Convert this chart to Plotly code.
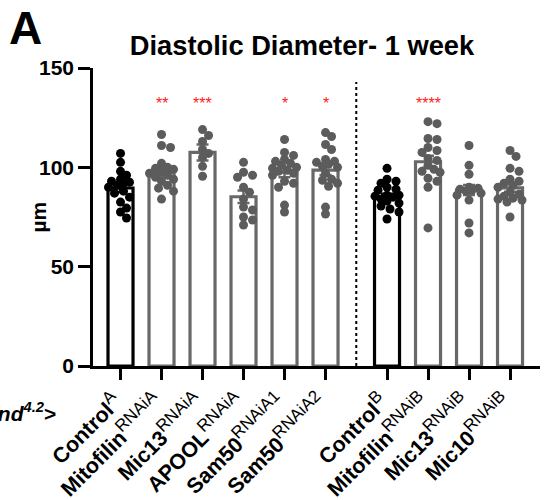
import plotly.graph_objects as go

# ---------------- data ----------------
names = ["Control", "Mitofilin", "Mic13", "APOOL", "Sam50", "Sam50",
         "Control", "Mitofilin", "Mic13", "Mic10"]
sups = ["A", "RNAiA", "RNAiA", "RNAiA", "RNAiA1", "RNAiA2",
        "B", "RNAiB", "RNAiB", "RNAiB"]
is_control = [True, False, False, False, False, False, True, False, False, False]
means = [89.6, 97.5, 107.5, 85.2, 97.5, 98.6, 85.2, 102.8, 88.6, 89.7]
sems = [2.0, 2.0, 4.0, 3.2, 2.5, 2.5, 1.5, 3.0, 2.5, 2.0]
signif = ["", "**", "***", "", "*", "*", "", "****", "", ""]

ctrlA = [107, 102.5, 98, 96, 94, 93, 92.5, 92, 91, 90, 88, 87, 85, 82.5, 79.5, 77.5, 74.5]
mitoA = [116.5, 111, 110, 102, 100, 99.5, 99, 98, 97, 96, 95, 94, 93, 91, 89.5, 88, 84]
mic13A = [119, 116, 113, 109, 107, 105, 100.5, 95.5]
apoolA = [102.5, 97.5, 96, 95, 90, 87.5, 84, 80, 78.5, 75, 73.5, 71]
sam50A1 = [114, 107.5, 106, 104, 103, 102, 101, 100, 99.5, 98.5, 98, 97, 96, 93, 92, 90, 81, 77.5]
sam50A2 = [117.5, 115.5, 111.5, 109, 104, 103, 102.5, 101.5, 100.5, 100, 97, 94, 93.5, 92, 90.5, 80, 76.5]
ctrlB = [99.5, 94, 93, 92, 90, 89, 88.5, 86, 85.5, 86, 85, 84, 83, 82, 80.5, 79, 77.5, 74]
mitoB = [123, 122, 114.5, 114, 110, 108.5, 107.5, 104.5, 103.5, 101, 99, 98, 97.5, 94.5, 93, 90, 69.5]
mic13B = [111, 101, 96.5, 90, 89.5, 89, 88.5, 88, 87, 86, 83.5, 72, 67]
mic10B = [108.5, 105.5, 99.5, 98, 94, 93, 92, 91, 90, 87.5, 86.5, 85.5, 84.5, 84, 83.5, 82.5, 75]
points = [ctrlA, mitoA, mic13A, apoolA, sam50A1, sam50A2, ctrlB, mitoB, mic13B, mic10B]

y_ticks = [0, 50, 100, 150]

# ---------------- layout constants ----------------
W, H = 548, 500
L, R, T, B = 93, 8, 68, 134
plot_w, plot_h = W - L - R, H - T - B
group_a, group_gap = 6, 1.5
positions = [i if i < group_a else i + group_gap - 1 for i in range(len(names))]
x_range = [-0.671, 10.231]
y_range = [0, 150]
px_x = plot_w / (x_range[1] - x_range[0])
px_y = plot_h / (y_range[1] - y_range[0])

FONT = "Arial, Liberation Sans"
BLACK = "#000000"
GRAY = "#686868"
DOTGRAY = "#5c5c5c"


def swarm(vals, mind=6.8, step=3.0, maxoff=14.0):
    order = sorted(range(len(vals)), key=lambda k: -vals[k])
    placed = []
    offs = [0.0] * len(vals)
    cands = [0.0]
    k = 1
    while k * step <= maxoff:
        cands += [k * step, -k * step]
        k += 1
    for idx in order:
        yy = vals[idx] * px_y
        best, bestd = None, -1
        for c in cands:
            d = min([((c - ox) ** 2 + (yy - oy) ** 2) ** 0.5 for ox, oy in placed] or [1e9])
            if d >= mind:
                best = c
                break
            if d > bestd:
                bestd, best = d, c
        placed.append((best, yy))
        offs[idx] = best / px_x
    return offs


fig = go.Figure()

for i in range(len(names)):
    c = BLACK if is_control[i] else GRAY
    fig.add_trace(go.Bar(
        x=[positions[i]], y=[means[i]], width=0.61,
        marker=dict(color="white", line=dict(color=c, width=3.2)),
        error_y=dict(type="data", array=[sems[i]], color=c, thickness=2.5, width=6),
        hoverinfo="skip",
    ))

for i in range(len(names)):
    c = BLACK if is_control[i] else DOTGRAY
    offs = swarm(points[i])
    fig.add_trace(go.Scatter(
        x=[positions[i] + o for o in offs], y=points[i], mode="markers",
        marker=dict(size=9, color=c, line=dict(width=0)),
        hoverinfo="skip",
    ))

annotations = []
for i, s in enumerate(signif):
    if s:
        annotations.append(dict(x=positions[i], y=132, xref="x", yref="y", text=s,
                                showarrow=False, font=dict(size=16, color="#ff1a1a", family=FONT)))

annotations.append(dict(x=(24 - L) / plot_w, y=0.5, xref="paper", yref="paper",
                        text="<b>µm</b>", textangle=-90, showarrow=False,
                        font=dict(size=21, color="black", family=FONT)))
annotations.append(dict(x=(7 - L) / plot_w, y=1 + (T - 28) / plot_h, xref="paper", yref="paper",
                        text="<b>A</b>", showarrow=False, xanchor="left", yanchor="middle",
                        font=dict(size=46, color="black", family=FONT)))
annotations.append(dict(x=(58 - L) / plot_w, y=-(412 - (T + plot_h)) / plot_h, xref="paper", yref="paper",
                        text="<b><i>Hand<sup>4.2</sup></i>&gt;</b>", showarrow=False,
                        xanchor="right", yanchor="middle",
                        font=dict(size=21, color="black", family=FONT)))

fig.update_layout(
    width=W, height=H,
    margin=dict(l=L, r=R, t=T, b=B, pad=0),
    plot_bgcolor="white", paper_bgcolor="white",
    showlegend=False, barmode="overlay",
    title=dict(text="<b>Diastolic Diameter- 1 week</b>", xref="container", x=302 / W,
               xanchor="center", yref="container", y=1 - 45 / H, yanchor="middle",
               font=dict(size=27.3, color="black", family=FONT)),
    annotations=annotations,
    shapes=[dict(type="line", xref="x", yref="y", x0=5.75, x1=5.75, y0=0, y1=143,
                 line=dict(color="black", width=2, dash="dot"))],
    font=dict(family=FONT, color="black"),
)

fig.update_xaxes(
    range=x_range, tickmode="array", tickvals=positions,
    ticktext=[f"<b>{n}</b><sup><span style='font-size:17px'>{s}</span></sup>"
              for n, s in zip(names, sups)],
    tickangle=-45, tickfont=dict(size=21.5, color="black", family=FONT),
    ticklabelstandoff=1, ticklabelshift=-5,
    showline=True, linecolor="black", linewidth=2.5,
    ticks="outside", ticklen=11, tickwidth=2.5, tickcolor="black",
    showgrid=False, zeroline=False, automargin=False,
)
fig.update_yaxes(
    range=y_range, tickmode="array", tickvals=y_ticks,
    ticktext=[f"<b>{v}</b>" for v in y_ticks],
    tickfont=dict(size=21, color="black", family=FONT),
    showline=True, linecolor="black", linewidth=2.5,
    ticks="outside", ticklen=12, tickwidth=2.5, tickcolor="black",
    showgrid=False, zeroline=False, automargin=False,
)

fig.write_html("out.html", config={"displayModeBar": False},
               post_script="document.body.style.margin='0';document.body.style.overflow='hidden';")
